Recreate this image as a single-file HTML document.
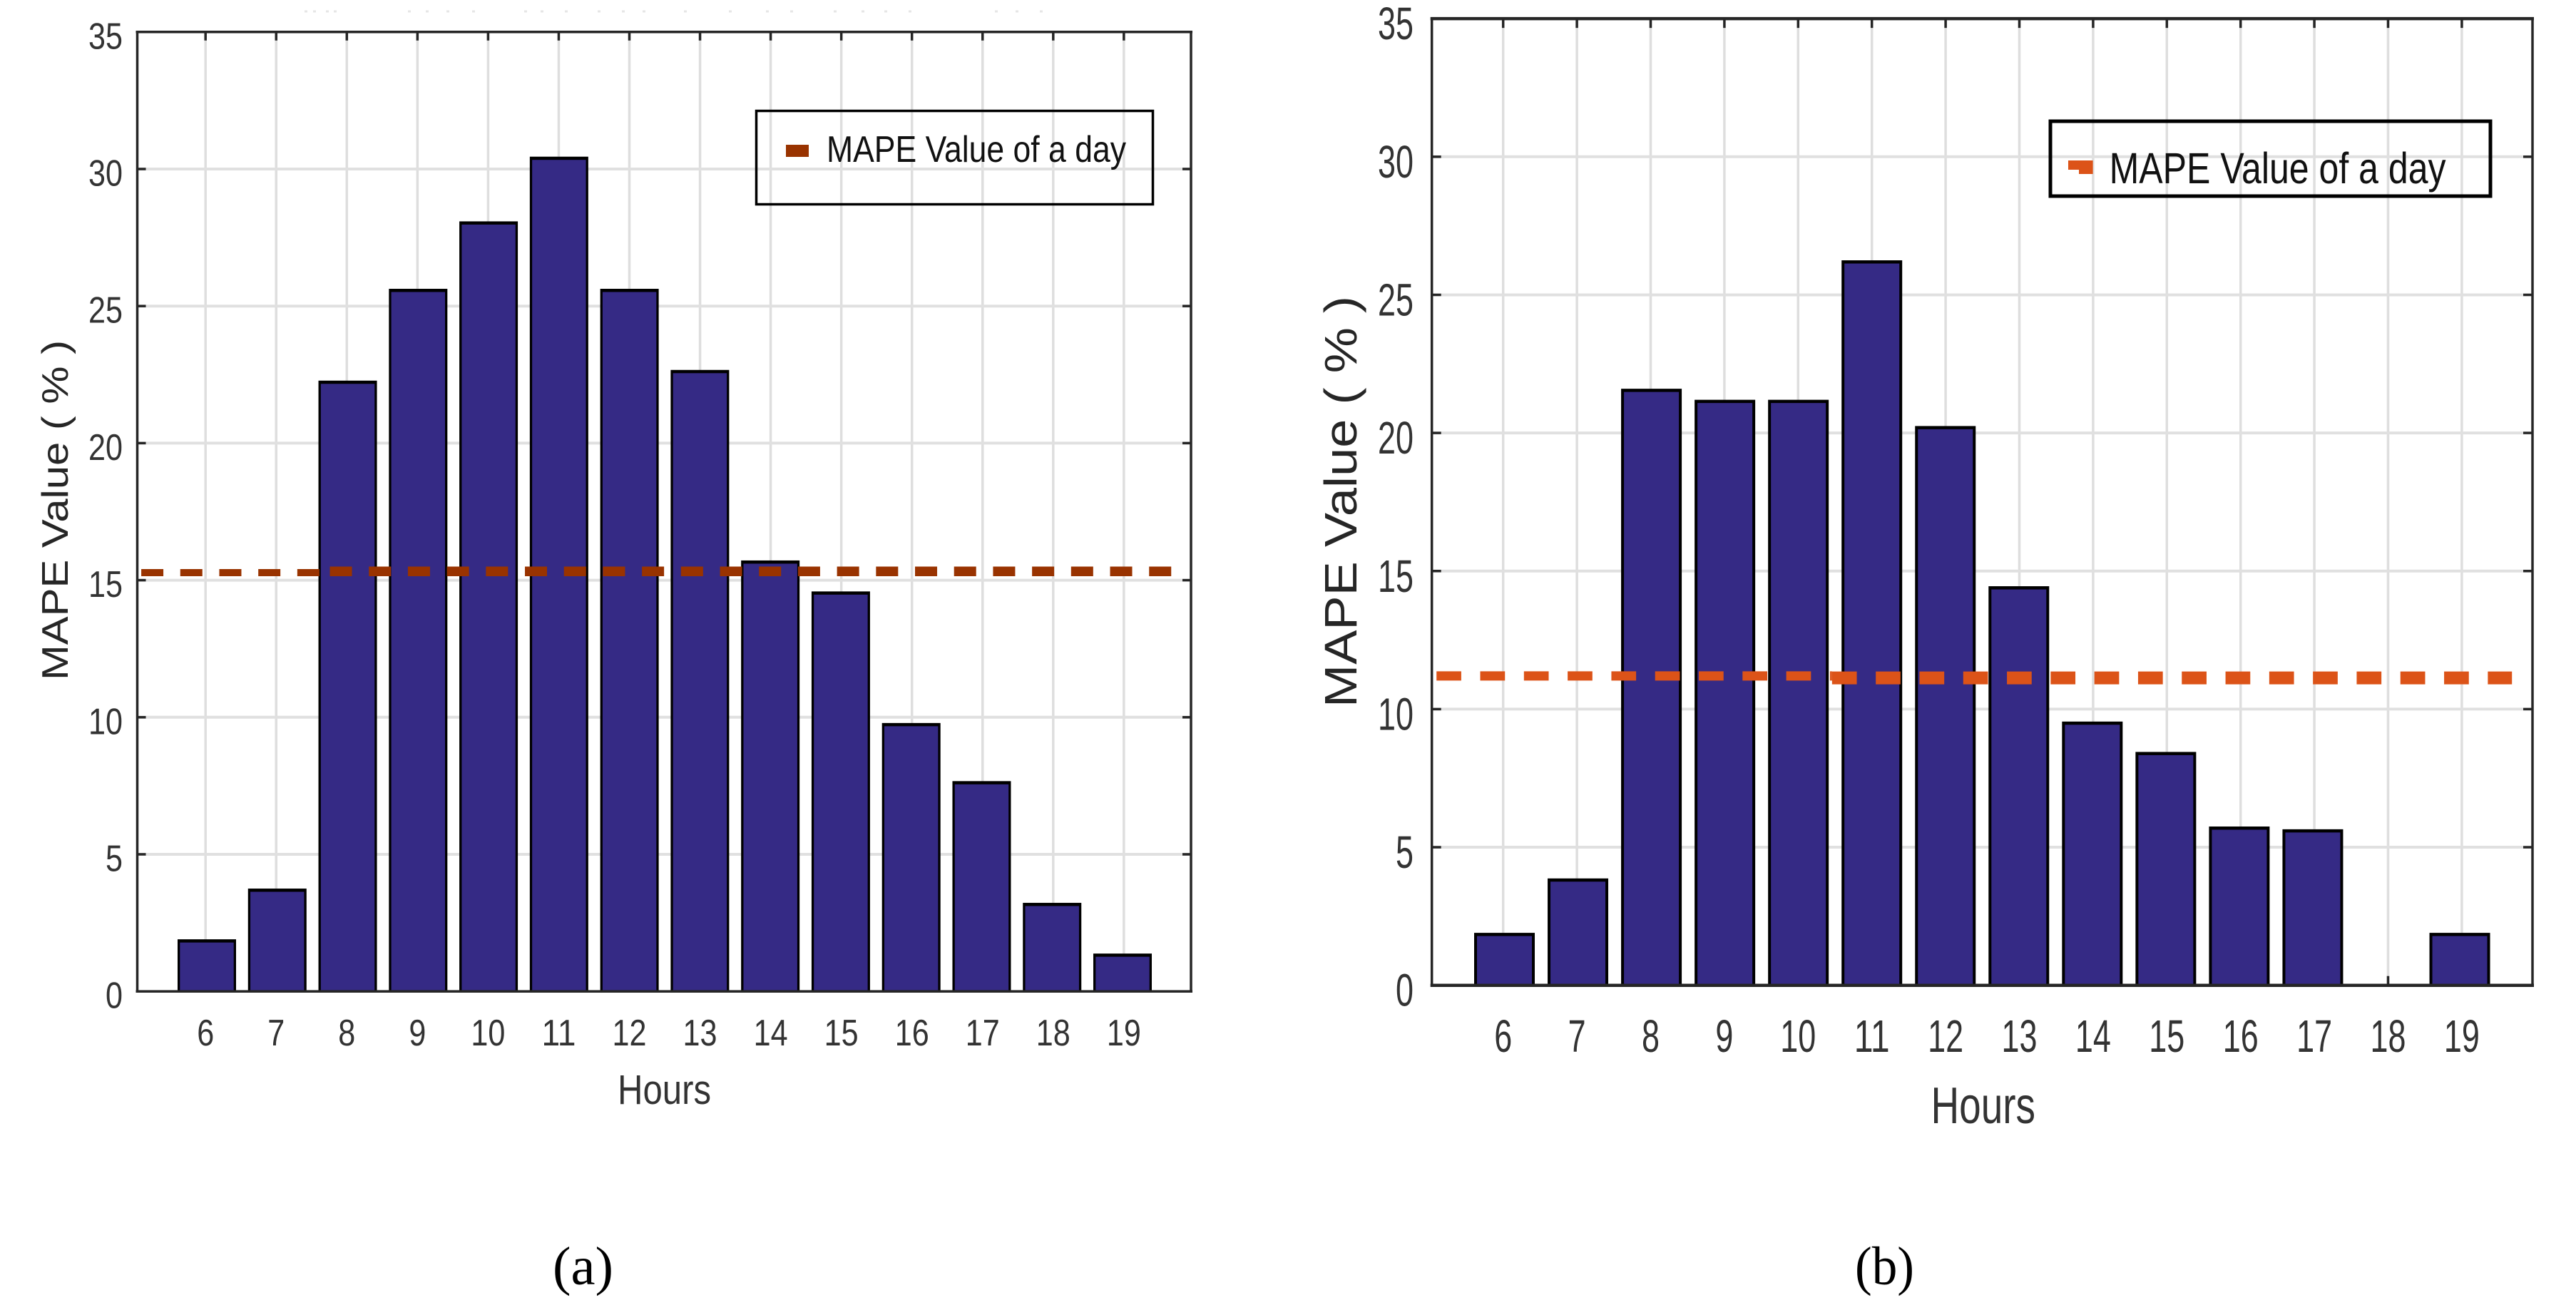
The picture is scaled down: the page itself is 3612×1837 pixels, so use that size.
<!DOCTYPE html>
<html lang="en">
<head>
<meta charset="utf-8">
<title>MAPE Value by Hour</title>
<style>
  html, body { margin: 0; padding: 0; background: #ffffff; }
  svg { display: block; }
  text { font-family: "Liberation Sans", sans-serif; }
</style>
</head>
<body>
<svg id="figure" xmlns="http://www.w3.org/2000/svg" width="3612" height="1837" viewBox="0 0 3612 1837">
  <path fill="none" stroke="#e6e6e6" stroke-width="3" d="M427 16h4M439 16h4M457 16h4M468 16h4M572 16h4M597 16h4M626 16h4M662 16h4M735 16h4M758 16h4M792 16h4M838 16h4M872 16h4M901 16h4M959 16h4M1022 16h4M1074 16h4M1108 16h4M1169 16h4M1208 16h4M1240 16h4M1274 16h4M1395 16h4M1424 16h4M1458 16h4"/>
  <text x="775" y="1801" font-size="76" textLength="85" lengthAdjust="spacingAndGlyphs" style="font-family:'Liberation Serif',serif" fill="#000">(a)</text>
  <text x="2601" y="1801" font-size="76" textLength="83" lengthAdjust="spacingAndGlyphs" style="font-family:'Liberation Serif',serif" fill="#000">(b)</text>
</svg>
<script>
// Chart data
const hours = [6, 7, 8, 9, 10, 11, 12, 13, 14, 15, 16, 17, 18, 19];
const yTickValues = [0, 5, 10, 15, 20, 25, 30, 35];
const mapeA = [1.9, 3.75, 22.28, 25.63, 28.09, 30.45, 25.63, 22.67, 15.72, 14.59, 9.79, 7.67, 3.23, 1.38];
const mapeB = [1.9, 3.87, 21.6, 21.2, 21.2, 26.25, 20.25, 14.45, 9.55, 8.45, 5.75, 5.65, 0, 1.9];
const dayLineHoursA = [5.09, 7.76, 19.74];
const dayLineValuesA = [15.275, 15.32];
const dayLineHoursB = [5.096, 10.46, 19.68];
const dayLineValuesB = [11.2, 11.13];
const legendLabel = "MAPE Value of a day";
const xAxisLabel = "Hours";
const yAxisLabel = "MAPE Value ( % )";

const NS = "http://www.w3.org/2000/svg";
const fig = document.getElementById("figure");

function add(parent, tag, attrs, txt) {
  const el = document.createElementNS(NS, tag);
  for (const k in attrs) el.setAttribute(k, attrs[k]);
  if (txt !== undefined) el.textContent = txt;
  parent.appendChild(el);
  return el;
}

function drawPanel(p) {
  const g = add(fig, "g", {});
  
  

  const xOf = h => p.x6 + (h - 6) * p.xStep;
  const barCenter = h => p.bar6 + (h - 6) * p.barStep;
  const yOf = v => p.y0 - v * p.yStep;
  const right = p.right, left = p.left, top = yOf(35), bottom = yOf(0);

  // Grid lines
  hours.forEach(h => {
    const l = add(g, "line", { x1: xOf(h), x2: xOf(h), y1: top, y2: bottom, stroke: "#dedede", "stroke-width": 3.5 });
    
    
  });
  yTickValues.slice(1, -1).forEach(v => {
    const l = add(g, "line", { x1: left, x2: right, y1: yOf(v), y2: yOf(v), stroke: "#e0e0e0", "stroke-width": 4 });
    
    
  });

  // Tick marks
  hours.forEach(h => {
    const t1 = add(g, "line", { x1: xOf(h), x2: xOf(h), y1: top, y2: top + p.tick, stroke: "#262626", "stroke-width": 3.5 });
    
    
    const t2 = add(g, "line", { x1: xOf(h), x2: xOf(h), y1: bottom, y2: bottom - p.tick, stroke: "#262626", "stroke-width": 3.5 });
    
    
  });
  yTickValues.slice(1, -1).forEach(v => {
    const t1 = add(g, "line", { x1: left, x2: left + p.tick, y1: yOf(v), y2: yOf(v), stroke: "#262626", "stroke-width": 3.5 });
    
    
    const t2 = add(g, "line", { x1: right, x2: right - p.tick, y1: yOf(v), y2: yOf(v), stroke: "#262626", "stroke-width": 3.5 });
    
    
  });

  // Bars
  p.values.forEach((v, i) => {
    if (v <= 0) return;
    const h = hours[i];
    const x = barCenter(h) - p.barW / 2, y = yOf(v), ht = bottom - y;
    const edge = add(g, "rect", { x: x, y: y, width: p.barW, height: ht, fill: "#000000" });
    
    
    const bar = add(g, "rect", { x: x + p.barSide, y: y + p.barTop, width: p.barW - 2 * p.barSide, height: Math.max(0, ht - p.barTop), fill: "#352a85" });
    
    
  });

  // Frame
  const frame = add(g, "rect", { x: left, y: top, width: right - left, height: bottom - top, fill: "none", stroke: "#262626", "stroke-width": 3.5 });
  
  
  const base = add(g, "line", { x1: left - 2, x2: right + 2, y1: bottom, y2: bottom, stroke: "#262626", "stroke-width": p.axisW });
  
  
  const topLine = add(g, "line", { x1: left - 2, x2: right + 2, y1: top, y2: top, stroke: "#262626", "stroke-width": p.axisW });
  
  

  // Daily MAPE dashed line (two captured segments)
  p.lineValues.forEach((v, i) => {
    const s = add(g, "line", {
      x1: xOf(p.lineHours[i]), x2: xOf(p.lineHours[i + 1]), y1: yOf(v), y2: yOf(v),
      stroke: p.lineColor, "stroke-width": p.lineW[i], "stroke-dasharray": p.dash
    });
    
    
  });

  // Y tick labels
  yTickValues.forEach(v => {
    const s = String(v);
    const t = add(g, "text", {
      x: p.yLabelRight, y: yOf(v) + p.yLabelDy, "font-size": p.tickFont, fill: "#333333", "text-anchor": "end",
      textLength: s.length * p.digitW, lengthAdjust: "spacingAndGlyphs"
    }, s);
    
    
  });

  // X tick labels
  hours.forEach(h => {
    const s = String(h);
    const t = add(g, "text", {
      x: xOf(h), y: p.xLabelY, "font-size": p.tickFont, fill: "#333333", "text-anchor": "middle",
      textLength: s.length * p.digitW, lengthAdjust: "spacingAndGlyphs"
    }, s);
    
    
  });

  // Axis titles
  const xt = add(g, "text", {
    x: p.xTitleX, y: p.xTitleY, "font-size": p.xTitleFont, fill: "#333333",
    textLength: p.xTitleW, lengthAdjust: "spacingAndGlyphs"
  }, xAxisLabel);
  
  
  const yt = add(g, "text", {
    x: 0, y: 0, "font-size": p.yTitleFont, fill: "#262626",
    transform: "translate(" + p.yTitleX + "," + p.yTitleBottom + ") rotate(-90)",
    textLength: p.yTitleLen, lengthAdjust: "spacingAndGlyphs"
  }, yAxisLabel);
  
  

  // Legend
  const lg = add(g, "g", {});
  
  
  const box = add(lg, "rect", { x: p.legX, y: p.legY, width: p.legW, height: p.legH, fill: "none", stroke: "#000000", "stroke-width": p.legStroke });
  
  
  const sw = add(lg, "path", { d: p.swatch, fill: p.lineColor });
  
  
  const lt = add(lg, "text", {
    x: p.legTextX, y: p.legTextY, "font-size": p.legFont, fill: "#111111",
    textLength: p.legTextW, lengthAdjust: "spacingAndGlyphs"
  }, legendLabel);
  
  
}

drawPanel({
  id: "a", values: mapeA, lineHours: dayLineHoursA, lineValues: dayLineValuesA,
  x6: 288.2, xStep: 99.05, bar6: 290, barStep: 98.77, y0: 1390.2, yStep: 38.44, left: 192.5, right: 1670,
  tick: 12, axisW: 3.5, barW: 82, barSide: 3.3, barTop: 4.5,
  lineColor: "#993300", lineW: [10, 13.5], dash: "31 23.7",
  tickFont: 52, digitW: 24, yLabelRight: 172, yLabelDy: 23.5, xLabelY: 1466,
  xTitleX: 866, xTitleY: 1548, xTitleFont: 58, xTitleW: 131,
  yTitleX: 95, yTitleBottom: 954, yTitleFont: 52, yTitleLen: 477,
  legX: 1060.5, legY: 155.5, legW: 556, legH: 131, legStroke: 3.5,
  swatch: "M1102 203h32v17h-32z",
  legTextX: 1159, legTextY: 227, legFont: 52, legTextW: 420
});

drawPanel({
  id: "b", values: mapeB, lineHours: dayLineHoursB, lineValues: dayLineValuesB,
  x6: 2107.7, xStep: 103.4, bar6: 2109.5, barStep: 103.04, y0: 1381.7, yStep: 38.73, left: 2007.7, right: 3551,
  tick: 13, axisW: 4.5, barW: 85, barSide: 4, barTop: 4.5,
  lineColor: "#dc5318", lineW: [13, 18], dash: "34.7 26.6",
  tickFont: 64, digitW: 25, yLabelRight: 1982, yLabelDy: 29, xLabelY: 1475,
  xTitleX: 2707.5, xTitleY: 1575, xTitleFont: 72, xTitleW: 146.5,
  yTitleX: 1902, yTitleBottom: 992, yTitleFont: 64, yTitleLen: 577,
  legX: 2875, legY: 170, legW: 617, legH: 105, legStroke: 5,
  swatch: "M2900 225h34.6v19h-19.6v-6h-15z",
  legTextX: 2957.6, legTextY: 257, legFont: 61, legTextW: 472
});
</script>
</body>
</html>
